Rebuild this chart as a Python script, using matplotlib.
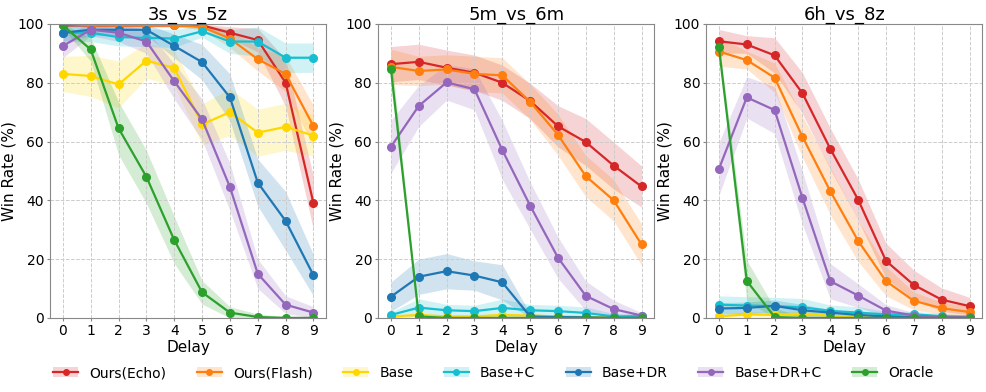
import numpy as np
import matplotlib
matplotlib.use('Agg')
import matplotlib.pyplot as plt
from matplotlib.patches import Patch

delays = list(range(10))
methods = ['Ours(Echo)', 'Ours(Flash)', 'Base', 'Base+C', 'Base+DR', 'Base+DR+C', 'Oracle']
colors = ['#d62728', '#ff7f0e', '#ffd700', '#17becf', '#1f77b4', '#9467bd', '#2ca02c']
maps = ['3s_vs_5z', '5m_vs_6m', '6h_vs_8z']

# 3s_vs_5z
mean_3s5z = [
    [99.5, 99.5, 99.5, 99.5, 99.5, 99.5, 97, 94.5, 80, 39],
    [100, 99.5, 99.5, 99.5, 99.5, 99, 95, 88, 83, 65.2],
    [83, 82.3, 79.4, 87.5, 85, 65.8, 70, 63, 65, 62],
    [97, 97, 95.5, 95.3, 95, 97.5, 94, 94, 88.5, 88.5],
    [97, 98, 98, 98, 92.5, 87, 75, 46, 33, 14.5],
    [92.5, 98, 97, 94, 80.5, 67.5, 44.5, 15, 4.5, 1.8],
    [99.5, 91.3, 64.5, 48, 26.5, 8.7, 1.8, 0.3, 0, 0],
]
std_3s5z = [
    [0.5, 0.5, 0.5, 0.5, 0.5, 1, 2, 4, 8, 9],
    [0.5, 0.5, 0.5, 0.5, 0.5, 1, 3, 4, 6, 7],
    [6, 7, 8, 6, 6, 7, 8, 8, 8, 7],
    [3, 3, 3, 3, 3, 2, 4, 5, 5, 5],
    [3, 2, 2, 2, 4, 6, 8, 8, 10, 7],
    [4, 2, 3, 4, 6, 7, 8, 5, 3, 2],
    [1, 4, 9, 9, 8, 4, 2, 1, 0.5, 0.5],
]

# 5m_vs_6m
mean_5m6m = [
    [86.3, 87.1, 85.1, 83.4, 80, 73.8, 65.2, 59.8, 51.8, 44.7],
    [85.4, 84, 84.5, 83, 82.5, 73.5, 62.3, 48.2, 40, 25],
    [0.5, 1, 0.5, 0.5, 1, 0.8, 0.5, 0.3, 0.2, 0.3],
    [1, 3.5, 2.6, 2.3, 3.4, 2.6, 2.3, 1.7, 0.5, 0.6],
    [7.2, 14, 15.9, 14.4, 12.1, 0.5, 0.3, 0.2, 0, 0],
    [58.2, 72.1, 80.1, 77.8, 57.1, 38.2, 20.5, 7.5, 3, 0.8],
    [84.8, 0.5, 0, 0, 0, 0, 0, 0, 0, 0],
]
std_5m6m = [
    [6, 6, 6, 6, 6, 6, 7, 8, 8, 7],
    [6, 5, 5, 6, 6, 6, 7, 7, 7, 7],
    [0.5, 0.5, 0.5, 0.5, 0.5, 0.5, 0.5, 0.5, 0.5, 0.5],
    [1, 3, 2, 2, 3, 2, 2, 2, 1, 1],
    [5, 6, 6, 5, 6, 1, 0.5, 0.5, 0.5, 0.5],
    [9, 7, 6, 7, 10, 8, 7, 5, 3, 1],
    [6, 0.5, 0, 0, 0, 0, 0, 0, 0, 0],
]

# 6h_vs_8z
mean_6h8z = [
    [94.1, 93, 89.3, 76.4, 57.5, 40.2, 19.4, 11.2, 6.2, 4],
    [90.6, 87.7, 81.7, 61.6, 43.1, 26.2, 12.5, 5.8, 3.3, 2],
    [0.5, 1.2, 1, 1.5, 0.7, 0.2, 0.1, 0, 0, 0],
    [4.5, 4.2, 4, 3.6, 2.4, 1.8, 1.2, 1.2, 0.6, 0.4],
    [3.2, 3.4, 4.1, 2.6, 1.8, 1, 0.5, 0.3, 0.2, 0.1],
    [50.7, 75, 70.7, 40.8, 12.5, 7.6, 2.5, 0.8, 0.3, 0.2],
    [92, 12.6, 0.3, 0, 0, 0, 0, 0, 0, 0],
]
std_6h8z = [
    [4, 3, 6, 7, 7, 7, 6, 5, 4, 3],
    [5, 3, 5, 7, 8, 7, 5, 3, 2, 2],
    [0.5, 1, 1, 1, 1, 0.5, 0.5, 0.3, 0.3, 0.3],
    [3, 3, 3, 3, 2, 2, 1, 1, 1, 0.5],
    [2, 2, 2, 2, 1, 1, 0.5, 0.5, 0.5, 0.5],
    [9, 7, 8, 9, 6, 4, 2, 1, 0.5, 0.5],
    [2, 7, 3, 0.5, 0, 0, 0, 0, 0, 0],
]

all_means = [mean_3s5z, mean_5m6m, mean_6h8z]
all_stds = [std_3s5z, std_5m6m, std_6h8z]

fig, axes = plt.subplots(1, 3, figsize=(9.87, 3.92), dpi=100)
fig.subplots_adjust(left=0.051, right=0.995, top=0.939, bottom=0.189, wspace=0.19)

for ax, name, means, stds in zip(axes, maps, all_means, all_stds):
    for m, s, c, lab in zip(means, stds, colors, methods):
        m = np.array(m)
        s = np.array(s)
        ax.fill_between(delays, np.clip(m - s, 0, 100), np.clip(m + s, 0, 100),
                        color=c, alpha=0.2, linewidth=0)
        ax.plot(delays, m, color=c, marker='o', markersize=5.5, linewidth=1.6, label=lab)
    ax.set_title(name, fontsize=13, pad=3)
    ax.set_xlabel('Delay', fontsize=11, labelpad=1)
    ax.set_ylabel('Win Rate (%)', fontsize=11, labelpad=1)
    ax.set_ylim(0, 100)
    ax.set_xticks(delays)
    ax.tick_params(labelsize=10, length=2.5, pad=2, color='#888888')
    ax.grid(True, linestyle='--', color='#cccccc', linewidth=0.7)
    for sp in ax.spines.values():
        sp.set_color('#888888')

handles = []
for c in colors:
    handles.append((Patch(facecolor=c, alpha=0.2, edgecolor='none'),
                    plt.Line2D([], [], color=c, marker='o', markersize=4, linewidth=1.6)))
fig.legend(handles, methods, loc='center', bbox_to_anchor=(0.5, 0.048), ncol=7,
           frameon=False, fontsize=10, columnspacing=2.2, handlelength=1.8)

fig.savefig('out.png', dpi=100)
